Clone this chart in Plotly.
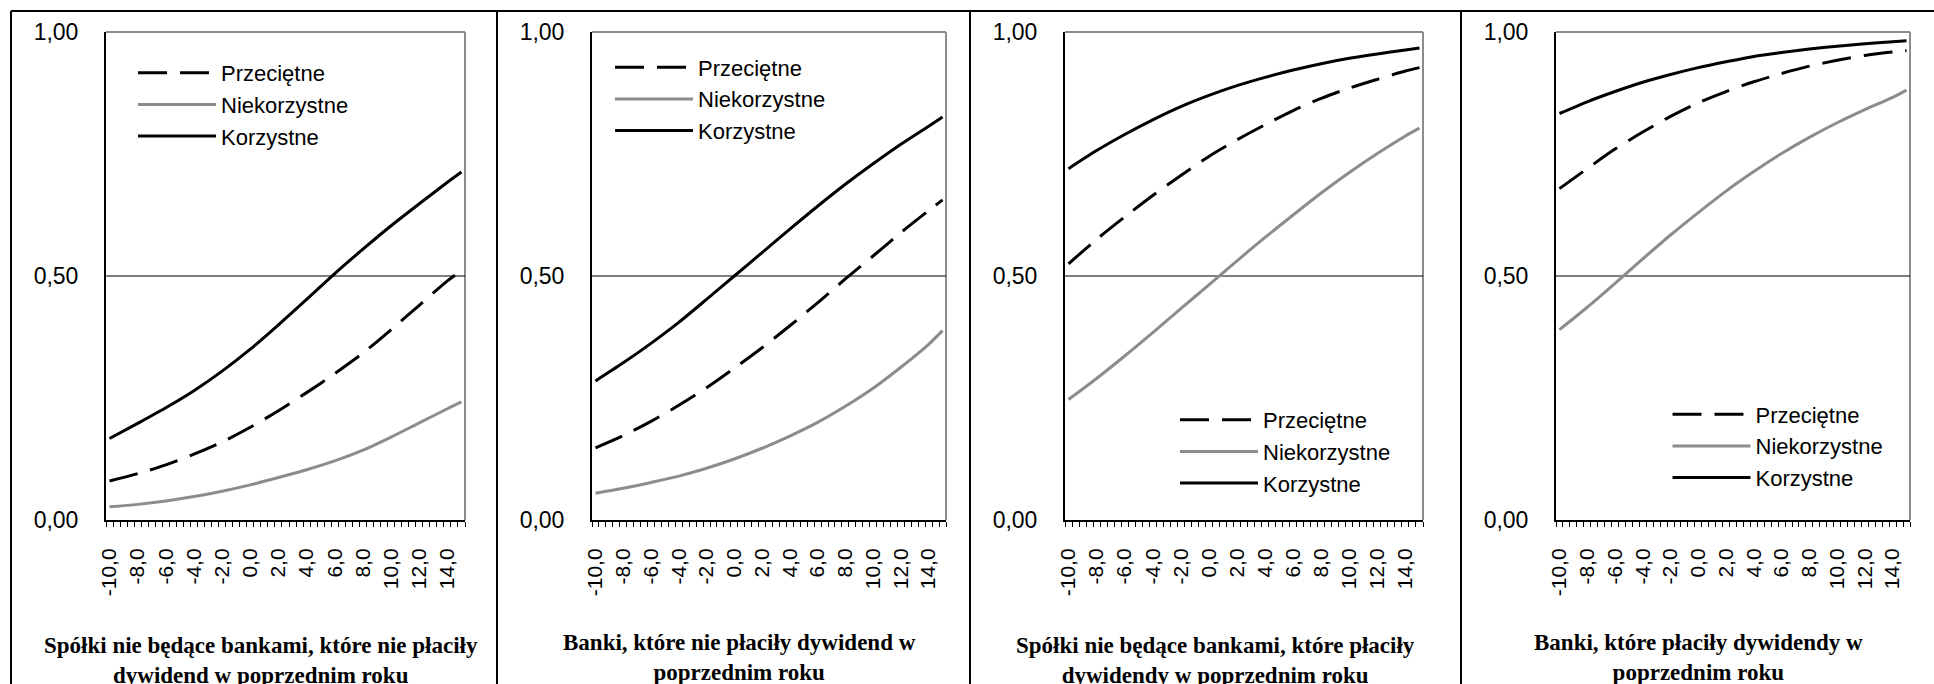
import plotly.graph_objects as go

# ---------------- data ----------------
X = [-10, -8, -6, -4, -2, 0, 2, 4, 6, 8, 10, 12, 14, 15]
X_TICKS = [-10, -8, -6, -4, -2, 0, 2, 4, 6, 8, 10, 12, 14]
X_TICKTEXT = ["-10,0", "-8,0", "-6,0", "-4,0", "-2,0", "0,0", "2,0", "4,0",
              "6,0", "8,0", "10,0", "12,0", "14,0"]
Y_TICKS = [0, 0.5, 1.0]
Y_TICKTEXT = ["0,00", "0,50", "1,00"]
SERIES = ["Przeciętne", "Niekorzystne", "Korzystne"]

p1_przecietne = [0.080, 0.095, 0.113, 0.135, 0.160, 0.190, 0.224, 0.261, 0.300, 0.342, 0.390, 0.440, 0.490, 0.511]
p1_niekorzystne = [0.027, 0.032, 0.039, 0.048, 0.059, 0.072, 0.087, 0.103, 0.121, 0.143, 0.170, 0.199, 0.228, 0.242]
p1_korzystne = [0.167, 0.198, 0.230, 0.265, 0.305, 0.350, 0.400, 0.452, 0.505, 0.555, 0.603, 0.648, 0.692, 0.713]

p2_przecietne = [0.148, 0.173, 0.202, 0.235, 0.271, 0.311, 0.353, 0.398, 0.445, 0.494, 0.541, 0.589, 0.634, 0.656]
p2_niekorzystne = [0.055, 0.065, 0.077, 0.090, 0.106, 0.125, 0.147, 0.172, 0.200, 0.233, 0.270, 0.313, 0.360, 0.388]
p2_korzystne = [0.285, 0.322, 0.362, 0.405, 0.452, 0.500, 0.548, 0.596, 0.643, 0.688, 0.730, 0.770, 0.807, 0.826]

p3_przecietne = [0.525, 0.575, 0.621, 0.665, 0.706, 0.745, 0.779, 0.810, 0.839, 0.864, 0.885, 0.903, 0.920, 0.927]
p3_niekorzystne = [0.247, 0.290, 0.336, 0.384, 0.433, 0.482, 0.531, 0.579, 0.625, 0.670, 0.712, 0.751, 0.787, 0.803]
p3_korzystne = [0.720, 0.757, 0.790, 0.820, 0.847, 0.870, 0.890, 0.907, 0.922, 0.935, 0.946, 0.955, 0.963, 0.967]

p4_przecietne = [0.679, 0.720, 0.760, 0.795, 0.827, 0.855, 0.878, 0.898, 0.915, 0.930, 0.942, 0.952, 0.959, 0.962]
p4_niekorzystne = [0.390, 0.436, 0.485, 0.535, 0.584, 0.630, 0.674, 0.714, 0.751, 0.784, 0.814, 0.841, 0.866, 0.881]
p4_korzystne = [0.833, 0.857, 0.878, 0.897, 0.913, 0.927, 0.939, 0.950, 0.958, 0.965, 0.971, 0.976, 0.980, 0.982]

PANELS = [
    (p1_przecietne, p1_niekorzystne, p1_korzystne),
    (p2_przecietne, p2_niekorzystne, p2_korzystne),
    (p3_przecietne, p3_niekorzystne, p3_korzystne),
    (p4_przecietne, p4_niekorzystne, p4_korzystne),
]
TITLES = [
    "Spółki nie będące bankami, które nie płaciły<br>dywidend w poprzednim roku",
    "Banki, które nie płaciły dywidend w<br>poprzednim roku",
    "Spółki nie będące bankami, które płaciły<br>dywidendy w poprzednim roku",
    "Banki, które płaciły dywidendy w<br>poprzednim roku",
]

# ---------------- layout geometry (pixels) ----------------
W, H = 1934, 684
PLOT_X = [(106, 465), (592, 946), (1065, 1423), (1556, 1910)]
PLOT_TOP, PLOT_BOT = 32, 520
BOX_X = [11, 497, 970, 1461]
BOX_TOP = 11
TITLE_CX = [261, 739, 1215, 1698]
TITLE_TOP = [631, 628, 631, 628]
LEGEND_POS = [(133, 52), (610, 46.5), (1175, 399), (1667.5, 393.5)]

BLACK = "#000000"
GRAY = "#8c8c8c"
FONT = "Liberation Sans"
SERIF = "Liberation Serif"

fig = go.Figure()
styles = [
    dict(color=BLACK, width=3, dash="29px,13px"),
    dict(color=GRAY, width=3),
    dict(color=BLACK, width=3),
]

shapes = []
annotations = []
for i, (series_vals, (x0, x1)) in enumerate(zip(PANELS, PLOT_X)):
    n = i + 1
    xa = "x" if n == 1 else f"x{n}"
    ya = "y" if n == 1 else f"y{n}"
    lg = "legend" if n == 1 else f"legend{n}"
    for k, (name, vals) in enumerate(zip(SERIES, series_vals)):
        fig.add_trace(go.Scatter(
            x=X, y=vals, mode="lines", name=name,
            line=dict(shape="spline", smoothing=0.8, **styles[k]),
            xaxis=xa, yaxis=ya, legend=lg, legendgroup=f"g{n}{k}",
            showlegend=True,
        ))
    dom_x = [x0 / W, x1 / W]
    dom_y = [1 - PLOT_BOT / H, 1 - PLOT_TOP / H]
    xkey = "xaxis" if n == 1 else f"xaxis{n}"
    ykey = "yaxis" if n == 1 else f"yaxis{n}"
    fig.update_layout(**{
        xkey: dict(
            domain=dom_x, anchor=ya, range=[-10.25, 15.25], automargin=False,
            tickmode="array", tickvals=X_TICKS, ticktext=X_TICKTEXT,
            tickangle=-90, ticks="", showgrid=False, zeroline=False,
            showline=True, linecolor=BLACK, linewidth=2,
            tickfont=dict(family=FONT, size=21, color=BLACK),
            ticklabelstandoff=18,
            minor=dict(tickmode="linear", tick0=-10.25, dtick=0.5,
                       ticks="outside", ticklen=5, tickwidth=1, tickcolor=BLACK,
                       showgrid=False),
        ),
        ykey: dict(
            domain=dom_y, anchor=xa, range=[0, 1], automargin=False,
            tickmode="array", tickvals=Y_TICKS, ticktext=Y_TICKTEXT,
            ticks="", showgrid=False, zeroline=False,
            showline=True, linecolor=BLACK, linewidth=2,
            tickfont=dict(family=FONT, size=23, color=BLACK),
            ticklabelstandoff=21,
        ),
    })
    # gray plot border (top / right)
    shapes.append(dict(type="line", xref=f"{xa} domain", yref=f"{ya} domain",
                       x0=0, x1=1, y0=1, y1=1, line=dict(color=GRAY, width=2), layer="below"))
    shapes.append(dict(type="line", xref=f"{xa} domain", yref=f"{ya} domain",
                       x0=1, x1=1, y0=0, y1=1, line=dict(color=GRAY, width=2), layer="below"))
    # 0.5 reference line
    shapes.append(dict(type="line", xref=f"{xa} domain", yref=ya,
                       x0=0, x1=1, y0=0.5, y1=0.5, line=dict(color=BLACK, width=1.2), layer="below"))
    # panel outer box vertical line
    shapes.append(dict(type="line", xref="paper", yref="paper",
                       x0=BOX_X[i] / W, x1=BOX_X[i] / W, y0=-0.05, y1=1 - BOX_TOP / H,
                       line=dict(color=BLACK, width=2)))
    annotations.append(dict(
        text=f"<b>{TITLES[i]}</b>", xref="paper", yref="paper",
        x=TITLE_CX[i] / W, y=1 - TITLE_TOP[i] / H, xanchor="center", yanchor="top",
        showarrow=False, align="center",
        font=dict(family=SERIF, size=23, color=BLACK),
    ))
    lx, ly = LEGEND_POS[i]
    fig.update_layout(**{lg: dict(
        x=lx / W, y=1 - ly / H, xanchor="left", yanchor="top",
        bgcolor="rgba(0,0,0,0)", borderwidth=0,
        font=dict(family=FONT, size=22, color=BLACK),
        itemwidth=78, tracegroupgap=2, traceorder="normal",
    )})

shapes.append(dict(type="line", xref="paper", yref="paper",
                   x0=BOX_X[0] / W, x1=1, y0=1 - BOX_TOP / H, y1=1 - BOX_TOP / H,
                   line=dict(color=BLACK, width=2)))

fig.update_layout(
    width=W, height=H, autosize=False,
    margin=dict(l=0, r=0, t=0, b=0, autoexpand=False),
    paper_bgcolor="white", plot_bgcolor="white",
    shapes=shapes, annotations=annotations,
    font=dict(family=FONT, color=BLACK),
)

fig.write_html(
    "out.html",
    config={"displayModeBar": False},
    post_script="document.body.style.margin='0';document.body.style.overflow='hidden';",
)
